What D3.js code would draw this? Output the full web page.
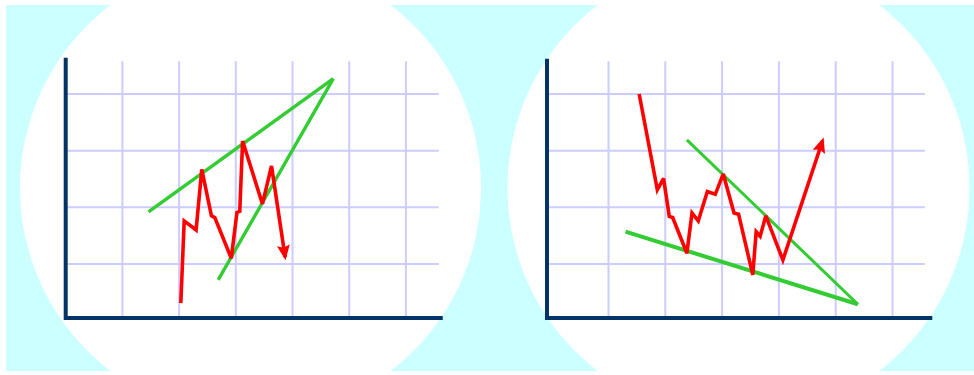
<!DOCTYPE html>
<html>
<head>
<meta charset="utf-8">
<script src="https://cdn.jsdelivr.net/npm/d3@7"></script>
<style>
  html, body { margin: 0; padding: 0; background: #ffffff; }
  svg { display: block; }
</style>
</head>
<body>
<svg id="chart" width="974" height="375"></svg>
<script>
// ---------- data (chart units: x = grid columns, y = grid rows) ----------
const gridXValues = [1, 2, 3, 4, 5, 6];
const gridYValues = [1, 2, 3, 4];

// Rising wedge (left panel)
const leftPriceX = [2.03, 2.09, 2.30, 2.40, 2.57, 2.63, 2.92, 3.02, 3.07, 3.12, 3.47, 3.63, 3.87];
const leftPriceY = [0.31, 1.76, 1.60, 2.67, 1.85, 1.82, 1.10, 1.91, 1.93, 3.17, 2.06, 2.73, 1.12];
const leftUpperTrendX = [1.46, 4.72];
const leftUpperTrendY = [1.92, 4.27];
const leftLowerTrendX = [2.69, 4.72];
const leftLowerTrendY = [0.72, 4.27];

// Falling wedge (right panel)
const rightPriceX = [1.54, 1.86, 1.97, 2.07, 2.13, 2.38, 2.47, 2.58, 2.74, 2.88, 3.02, 3.21, 3.29, 3.54, 3.60, 3.67, 3.77, 4.07, 4.77];
const rightPriceY = [4.00, 2.31, 2.51, 1.84, 1.82, 1.19, 1.90, 1.76, 2.28, 2.23, 2.59, 1.90, 1.88, 0.81, 1.57, 1.49, 1.85, 1.07, 3.18];
const rightUpperTrendX = [2.38, 5.39];
const rightUpperTrendY = [3.19, 0.29];
const rightLowerTrendX = [1.30, 5.39];
const rightLowerTrendY = [1.57, 0.29];

// ---------- layout ----------
const W = 974, H = 375;
const colors = {
  bg: "#ccffff", disc: "#ffffff", grid: "#ccccff",
  axis: "#003366", trend: "#33cc33", price: "#ff0000"
};

const panels = [
  {
    xRange: [122.4, 405.9], axisX: 0.0, xEnd: 6.65, gridXEnd: 6.58, yTop: 4.64,
    disc: { cx: 250.5, cy: 188, r: 230.5 },
    priceX: leftPriceX, priceY: leftPriceY,
    trends: [[leftUpperTrendX, leftUpperTrendY, 3.4], [leftLowerTrendX, leftLowerTrendY, 3.4]]
  },
  {
    xRange: [608.5, 892.5], axisX: -0.083, xEnd: 6.70, gridXEnd: 6.57, yTop: 4.62,
    disc: { cx: 738.5, cy: 188, r: 231 },
    priceX: rightPriceX, priceY: rightPriceY,
    trends: [[rightUpperTrendX, rightUpperTrendY, 3], [rightLowerTrendX, rightLowerTrendY, 4]]
  }
];
const yRange = [264, 94];     // pixel positions of grid rows 1 and 4
const axisYValue = 0.047;     // x-axis baseline (in row units)
const gridTopValue = 4.58;

const svg = d3.select("#chart");

// background
svg.append("rect").attr("x", 6).attr("y", 5).attr("width", W - 6).attr("height", 366)
  .attr("fill", colors.bg);

// arrow marker
const defs = svg.append("defs");
defs.append("marker")
  .attr("id", "arrow")
  .attr("markerUnits", "userSpaceOnUse")
  .attr("viewBox", "0 -8 16 16")
  .attr("refX", 12).attr("refY", 0)
  .attr("markerWidth", 16).attr("markerHeight", 16)
  .attr("orient", "auto")
  .append("path")
  .attr("d", "M0,-6.5L15,0L0,6.5L2.5,0Z")
  .attr("fill", colors.price);

panels.forEach(p => {
  const x = d3.scaleLinear().domain([1, 6]).range(p.xRange);
  const y = d3.scaleLinear().domain([1, 4]).range(yRange);
  const g = svg.append("g");

  g.append("circle").attr("cx", p.disc.cx).attr("cy", p.disc.cy).attr("r", p.disc.r)
    .attr("fill", colors.disc);

  // grid
  g.selectAll(".vgrid").data(gridXValues).enter().append("line")
    .attr("x1", d => x(d)).attr("x2", d => x(d))
    .attr("y1", y(gridTopValue)).attr("y2", y(axisYValue))
    .attr("stroke", colors.grid).attr("stroke-width", 2);
  g.selectAll(".hgrid").data(gridYValues).enter().append("line")
    .attr("x1", x(p.axisX)).attr("x2", x(p.gridXEnd))
    .attr("y1", d => y(d)).attr("y2", d => y(d))
    .attr("stroke", colors.grid).attr("stroke-width", 2);

  // axes
  g.append("path")
    .attr("d", `M${x(p.axisX)},${y(p.yTop)}L${x(p.axisX)},${y(axisYValue)}L${x(p.xEnd)},${y(axisYValue)}`)
    .attr("fill", "none").attr("stroke", colors.axis).attr("stroke-width", 4)
    .attr("stroke-linejoin", "miter");

  // trend lines
  const line = d3.line().x(d => x(d[0])).y(d => y(d[1]));
  p.trends.forEach(([tx, ty, sw]) => {
    g.append("path").datum(tx.map((v, i) => [v, ty[i]]))
      .attr("d", line).attr("fill", "none")
      .attr("stroke", colors.trend).attr("stroke-width", sw)
      .attr("stroke-linecap", "butt");
  });

  // price path
  g.append("path").datum(p.priceX.map((v, i) => [v, p.priceY[i]]))
    .attr("d", line).attr("fill", "none")
    .attr("stroke", colors.price).attr("stroke-width", 3.6)
    .attr("stroke-linejoin", "miter").attr("stroke-miterlimit", 3)
    .attr("marker-end", "url(#arrow)");
});
</script>
</body>
</html>
